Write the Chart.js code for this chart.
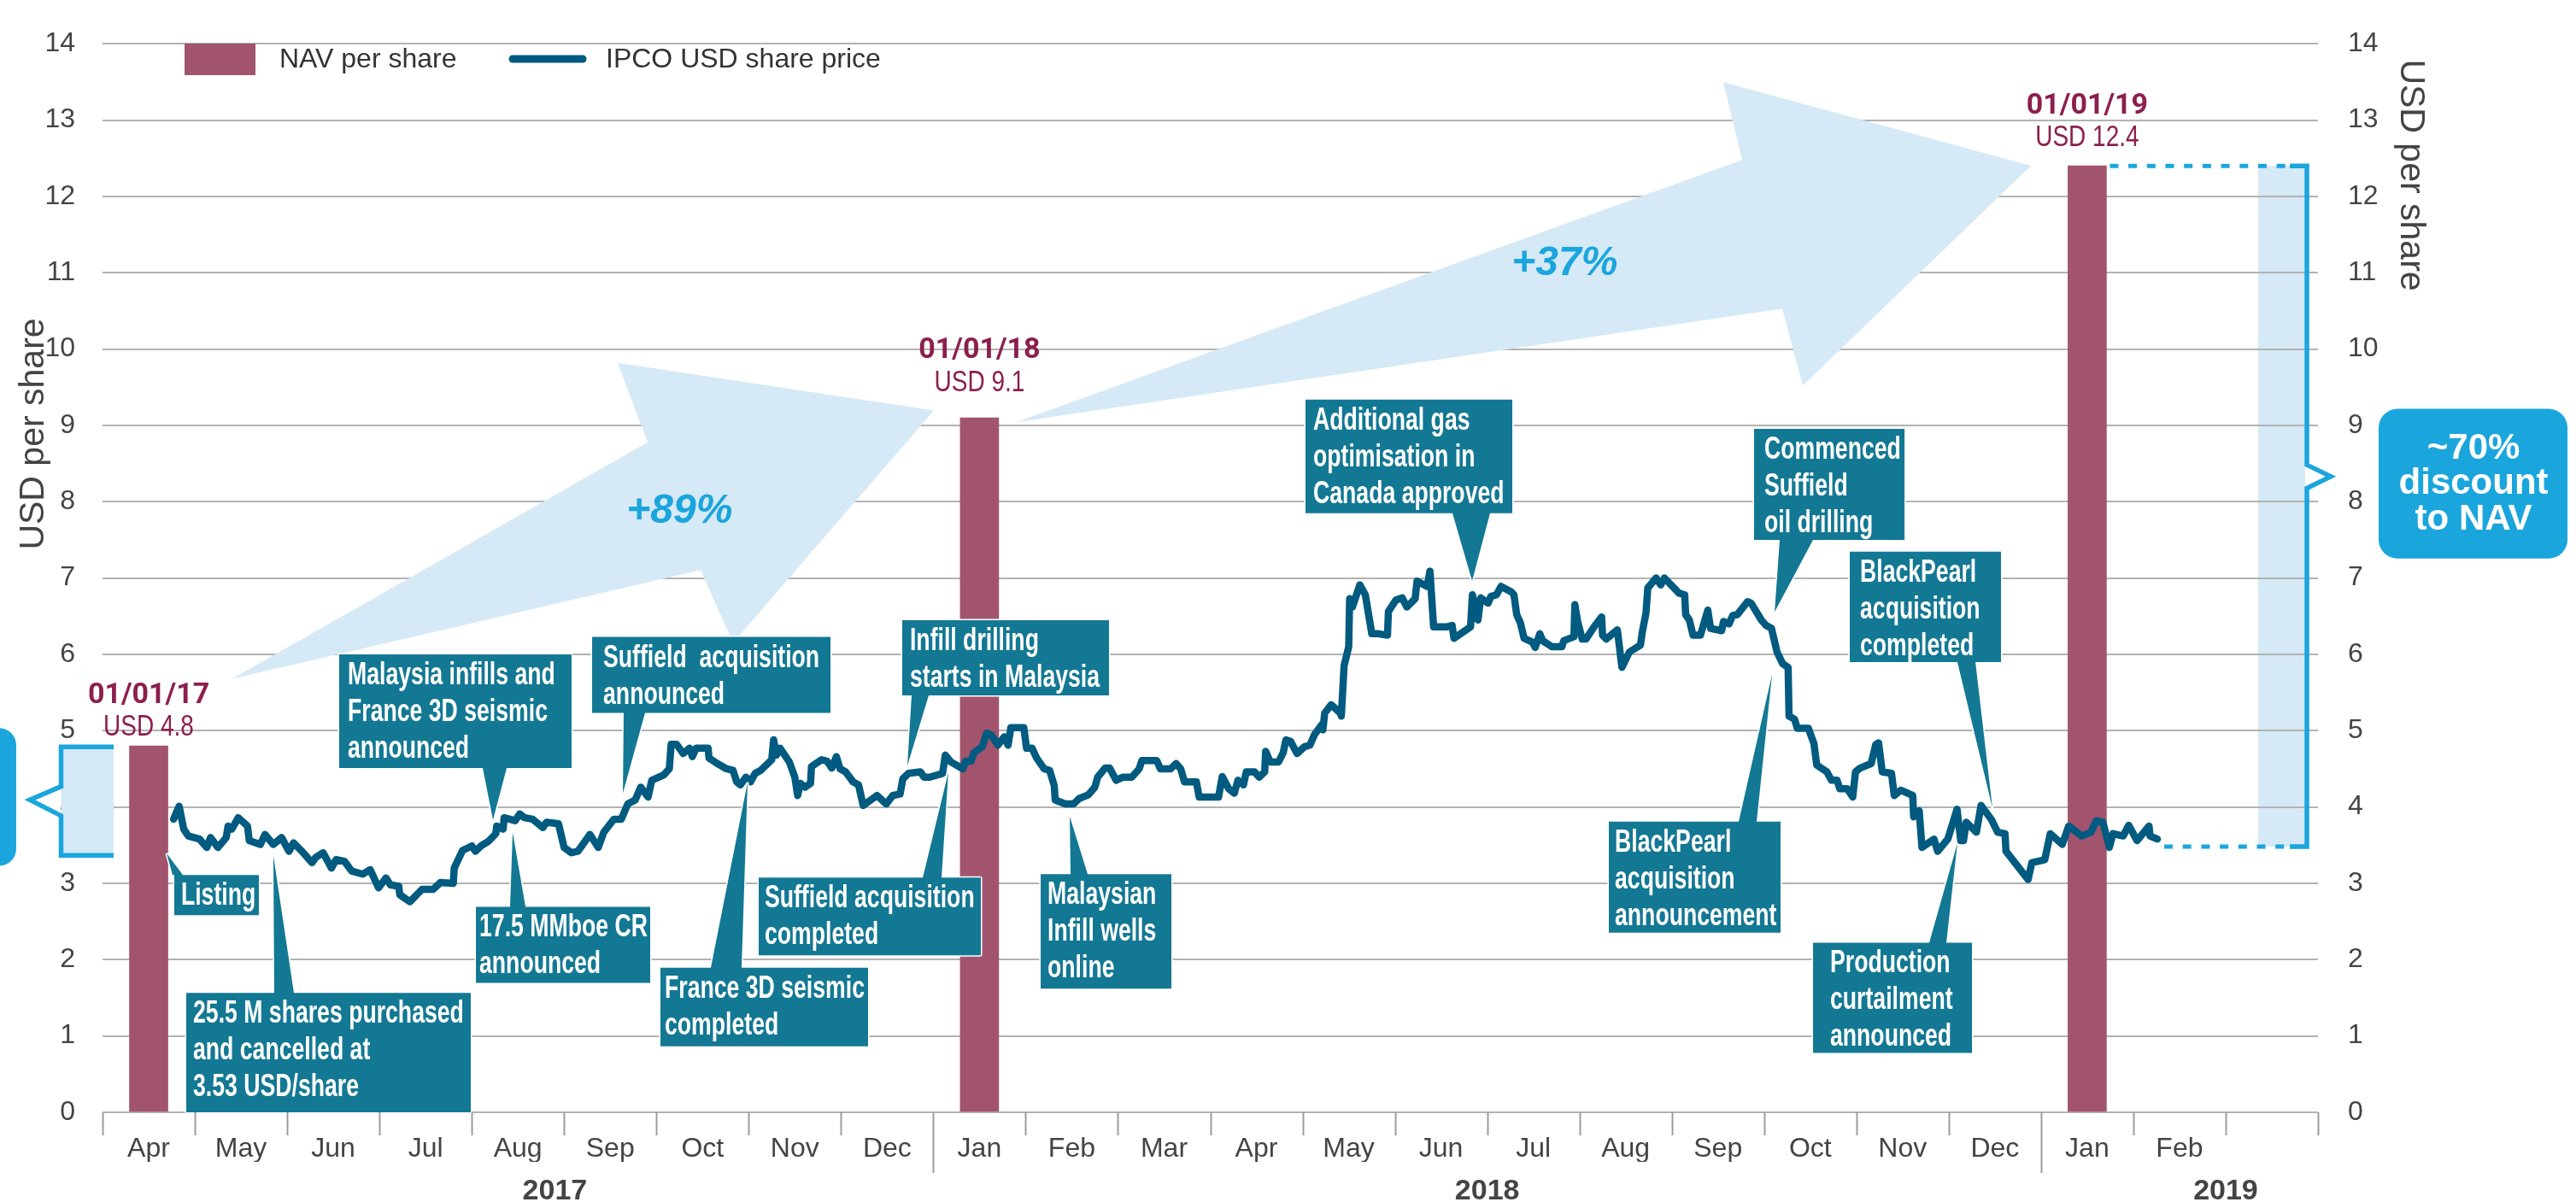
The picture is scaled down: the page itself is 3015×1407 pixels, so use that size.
<!DOCTYPE html>
<html>
<head>
<meta charset="utf-8">
<script src="https://cdn.jsdelivr.net/npm/chart.js@4.4.1/dist/chart.umd.min.js"></script>
<style>
  html, body { margin: 0; padding: 0; background: #fff; }
  #wrap { width: 3015px; height: 1407px; }
</style>
</head>
<body>
<div id="wrap"><canvas id="chart" width="3015" height="1407"></canvas></div>
<script>
// ---------- data ----------
// x axis is linear in months: 0 = start of Apr 2017, 24 = end of Mar 2019
const monthLabels = ['Apr','May','Jun','Jul','Aug','Sep','Oct','Nov','Dec','Jan','Feb','Mar',
                     'Apr','May','Jun','Jul','Aug','Sep','Oct','Nov','Dec','Jan','Feb',''];
const yearLabels = ['2017', '2018', '2019'];
const yearPos = [4.9, 15.0, 23.0];
const yearStarts = [9, 21];
const yTicks = [0, 14];

const navMonth = [0.5, 9.5, 21.5];
const navValue = [4.8, 9.1, 12.4];
const navDates = ['01/01/17', '01/01/18', '01/01/19'];

// IPCO share price in USD, [month, value]
const priceSeries = [
  [0.77,3.84],[0.83,4.01],[0.88,3.71],[0.93,3.62],[1.05,3.58],[1.13,3.47],[1.17,3.60],[1.25,3.47],
  [1.34,3.60],[1.36,3.75],[1.40,3.71],[1.47,3.86],[1.57,3.75],[1.59,3.56],[1.71,3.51],[1.76,3.64],
  [1.85,3.51],[1.94,3.60],[2.02,3.42],[2.07,3.53],[2.16,3.42],[2.27,3.27],[2.31,3.34],[2.39,3.40],
  [2.48,3.20],[2.53,3.31],[2.62,3.29],[2.70,3.16],[2.82,3.12],[2.90,3.18],[2.99,2.94],[3.07,3.07],
  [3.12,2.98],[3.21,2.96],[3.22,2.85],[3.33,2.76],[3.46,2.92],[3.58,2.92],[3.66,3.01],[3.80,3.00],
  [3.81,3.20],[3.90,3.43],[4.00,3.49],[4.04,3.42],[4.10,3.49],[4.18,3.55],[4.26,3.65],[4.27,3.75],
  [4.34,3.71],[4.35,3.86],[4.47,3.82],[4.52,3.91],[4.57,3.86],[4.66,3.84],[4.77,3.73],[4.81,3.80],
  [4.94,3.78],[5.00,3.47],[5.08,3.40],[5.15,3.42],[5.28,3.64],[5.37,3.47],[5.43,3.67],[5.54,3.84],
  [5.62,3.84],[5.69,4.04],[5.77,4.09],[5.83,4.26],[5.91,4.13],[5.95,4.35],[6.08,4.42],[6.14,4.50],
  [6.16,4.82],[6.22,4.82],[6.29,4.70],[6.36,4.77],[6.39,4.66],[6.43,4.77],[6.56,4.77],[6.57,4.64],
  [6.66,4.57],[6.76,4.50],[6.83,4.48],[6.87,4.33],[6.91,4.29],[6.97,4.39],[7.02,4.33],[7.07,4.44],
  [7.13,4.48],[7.25,4.62],[7.27,4.88],[7.30,4.68],[7.34,4.77],[7.44,4.59],[7.50,4.39],[7.53,4.15],
  [7.56,4.31],[7.61,4.26],[7.67,4.31],[7.68,4.53],[7.79,4.62],[7.85,4.60],[7.90,4.51],[7.95,4.66],
  [7.99,4.50],[8.05,4.46],[8.13,4.33],[8.19,4.29],[8.24,4.02],[8.32,4.09],[8.39,4.15],[8.49,4.04],
  [8.56,4.15],[8.64,4.17],[8.67,4.37],[8.73,4.44],[8.86,4.46],[8.90,4.39],[8.96,4.39],[9.10,4.44],
  [9.13,4.68],[9.19,4.59],[9.32,4.50],[9.35,4.60],[9.41,4.60],[9.44,4.71],[9.53,4.79],[9.58,4.97],
  [9.63,4.94],[9.70,4.81],[9.77,4.92],[9.81,4.81],[9.84,5.04],[9.98,5.04],[10.01,4.77],[10.07,4.77],
  [10.12,4.64],[10.20,4.50],[10.26,4.48],[10.31,4.28],[10.32,4.09],[10.43,4.04],[10.52,4.04],[10.58,4.11],
  [10.68,4.16],[10.75,4.26],[10.78,4.39],[10.86,4.51],[10.91,4.51],[10.98,4.35],[11.05,4.39],[11.15,4.39],
  [11.23,4.50],[11.26,4.61],[11.42,4.61],[11.46,4.50],[11.57,4.50],[11.63,4.57],[11.68,4.50],[11.72,4.33],
  [11.85,4.33],[11.88,4.13],[12.09,4.13],[12.13,4.40],[12.20,4.24],[12.26,4.18],[12.30,4.35],[12.36,4.29],
  [12.39,4.46],[12.48,4.46],[12.53,4.39],[12.59,4.46],[12.60,4.73],[12.65,4.59],[12.74,4.59],[12.79,4.71],
  [12.82,4.88],[12.87,4.86],[12.94,4.70],[13.02,4.79],[13.08,4.81],[13.13,4.95],[13.21,5.08],[13.22,5.01],
  [13.24,5.23],[13.31,5.34],[13.41,5.23],[13.42,5.19],[13.45,5.85],[13.50,6.10],[13.51,6.73],[13.54,6.62],
  [13.62,6.91],[13.68,6.78],[13.75,6.27],[13.82,6.27],[13.92,6.25],[13.93,6.56],[14.01,6.71],[14.08,6.74],
  [14.13,6.62],[14.22,6.73],[14.24,6.96],[14.35,6.89],[14.38,7.09],[14.42,6.36],[14.47,6.36],[14.56,6.36],
  [14.62,6.38],[14.64,6.21],[14.82,6.36],[14.84,6.78],[14.90,6.45],[14.93,6.74],[15.01,6.67],[15.04,6.76],
  [15.10,6.78],[15.15,6.89],[15.26,6.82],[15.29,6.78],[15.32,6.52],[15.36,6.41],[15.40,6.21],[15.49,6.16],
  [15.52,6.09],[15.57,6.27],[15.60,6.18],[15.70,6.10],[15.81,6.10],[15.83,6.18],[15.94,6.23],[15.95,6.65],
  [15.98,6.43],[16.03,6.20],[16.07,6.20],[16.17,6.38],[16.24,6.49],[16.25,6.25],[16.29,6.20],[16.41,6.32],
  [16.46,5.83],[16.54,6.03],[16.66,6.12],[16.68,6.29],[16.72,6.54],[16.74,6.87],[16.83,7.00],[16.88,6.91],
  [16.92,7.00],[17.08,6.80],[17.14,6.78],[17.15,6.52],[17.19,6.45],[17.23,6.25],[17.31,6.25],[17.39,6.58],
  [17.42,6.34],[17.54,6.31],[17.56,6.43],[17.62,6.40],[17.66,6.51],[17.71,6.52],[17.82,6.69],[17.86,6.67],
  [17.97,6.45],[18.02,6.38],[18.08,6.34],[18.14,6.03],[18.20,5.88],[18.26,5.83],[18.27,5.19],[18.33,5.15],
  [18.36,5.03],[18.48,5.03],[18.54,4.83],[18.57,4.55],[18.68,4.46],[18.73,4.35],[18.79,4.35],[18.82,4.24],
  [18.90,4.24],[18.96,4.13],[18.99,4.46],[19.04,4.51],[19.16,4.57],[19.21,4.82],[19.24,4.84],[19.28,4.46],
  [19.38,4.44],[19.41,4.15],[19.48,4.22],[19.61,4.15],[19.62,3.87],[19.68,3.95],[19.71,3.47],[19.84,3.58],
  [19.88,3.42],[19.99,3.58],[20.09,3.97],[20.13,3.56],[20.16,3.56],[20.19,3.80],[20.30,3.67],[20.35,4.02],
  [20.46,3.84],[20.53,3.67],[20.61,3.65],[20.62,3.42],[20.86,3.05],[20.90,3.27],[21.04,3.31],[21.10,3.65],
  [21.23,3.51],[21.30,3.75],[21.44,3.62],[21.54,3.67],[21.60,3.82],[21.67,3.80],[21.74,3.47],[21.78,3.65],
  [21.89,3.62],[21.95,3.76],[22.04,3.56],[22.17,3.75],[22.18,3.62],[22.26,3.58]
];

// ---------- styles ----------
const NAV_COL = '#a2546d';
const LINE_COL = '#015a80';
const BOX_COL = '#137893';
const LIGHT = '#d5e9f6';
const BLUE = '#1ba5dd';
const MAROON = '#8c1f4e';
const GREY_TXT = '#444444';
const SANS = '"Liberation Sans", Arial, sans-serif';

// event call-outs (positions in month / USD units)
const events = [
  { t: ['Listing'], l: 0.777, r: 1.694, top: 3.109, bot: 2.583, tip: [0.694, 3.393], base: [0.759, 0.870], side: 'top', pad: 8 },
  { t: ['Malaysia infills and', 'France 3D seismic', 'announced'], l: 2.564, r: 5.081, top: 5.998, bot: 4.510, tip: [4.230, 3.831], base: [4.119, 4.378], side: 'bottom', pad: 10 },
  { t: ['Suffield  acquisition', 'announced'], l: 5.304, r: 7.886, top: 6.228, bot: 5.232, tip: [5.637, 4.181], base: [5.646, 5.877], side: 'bottom', pad: 13 },
  { t: ['Infill drilling', 'starts in Malaysia'], l: 8.663, r: 10.903, top: 6.447, bot: 5.462, tip: [8.719, 4.542], base: [8.765, 8.950], side: 'bottom', pad: 9 },
  { t: ['Suffield acquisition', 'completed'], l: 7.108, r: 9.515, top: 3.076, bot: 2.058, tip: [9.163, 4.455], base: [8.886, 9.089], side: 'top', pad: 7 },
  { t: ['17.5 MMboe CR', 'announced'], l: 4.045, r: 5.933, top: 2.693, bot: 1.697, tip: [4.443, 3.667], base: [4.415, 4.582], side: 'top', pad: 4 },
  { t: ['25.5 M shares purchased', 'and cancelled at', '3.53 USD/share'], l: 0.907, r: 3.989, top: 1.565, bot: 0, tip: [1.851, 3.360], base: [1.860, 2.073], side: 'top', pad: 8 },
  { t: ['France 3D seismic', 'completed'], l: 6.044, r: 8.293, top: 1.894, bot: 0.865, tip: [6.988, 4.324], base: [6.590, 6.923], side: 'top', pad: 5 },
  { t: ['Malaysian', 'Infill wells', 'online'], l: 10.163, r: 11.579, top: 3.120, bot: 1.620, tip: [10.478, 3.875], base: [10.487, 10.672], side: 'top', pad: 8 },
  { t: ['Additional gas', 'optimisation in', 'Canada approved'], l: 13.032, r: 15.272, top: 9.337, bot: 7.848, tip: [14.837, 6.961], base: [14.624, 15.031], side: 'bottom', pad: 9 },
  { t: ['BlackPearl', 'acquisition', 'announcement'], l: 16.318, r: 18.178, top: 3.809, bot: 2.353, tip: [18.086, 5.736], base: [17.725, 17.919], side: 'top', pad: 7 },
  { t: ['Commenced', 'Suffield', 'oil drilling'], l: 17.891, r: 19.521, top: 8.954, bot: 7.498, tip: [18.114, 6.556], base: [18.169, 18.530], side: 'bottom', pad: 12 },
  { t: ['BlackPearl', 'acquisition', 'completed'], l: 18.928, r: 20.566, top: 7.345, bot: 5.900, tip: [20.474, 3.984], base: [20.094, 20.289], side: 'bottom', pad: 12 },
  { t: ['Production', 'curtailment', 'announced'], l: 18.530, r: 20.252, top: 2.222, bot: 0.777, tip: [20.094, 3.525], base: [19.789, 19.974], side: 'top', pad: 20 }
];

// big growth arrows
const arrows = [
  { label: '+89%', at: [6.25, 7.87],
    pts: [[1.407, 5.681], [5.905, 8.778], [5.581, 9.818], [9.006, 9.194], [6.831, 6.152], [6.479, 7.104]] },
  { label: '+37%', at: [15.84, 11.12],
    pts: [[9.894, 9.041], [17.762, 12.478], [17.558, 13.496], [20.890, 12.401], [18.419, 9.523], [18.197, 10.530]] }
];

const navLabelY = [[5.36, 4.94], [9.88, 9.45], [13.08, 12.66]];

// ---------- helpers ----------
function P(chart, x, y) {
  return [chart.scales.x.getPixelForValue(x), chart.scales.y.getPixelForValue(y)];
}
function condText(ctx, txt, x, y, sx, align) {
  ctx.save();
  ctx.translate(x, y);
  ctx.scale(sx, 1);
  ctx.textAlign = align || 'left';
  ctx.fillText(txt, 0, 0);
  ctx.restore();
}
function roundRect(ctx, x, y, w, h, r) {
  ctx.beginPath();
  ctx.moveTo(x + r, y);
  ctx.arcTo(x + w, y, x + w, y + h, r);
  ctx.arcTo(x + w, y + h, x, y + h, r);
  ctx.arcTo(x, y + h, x, y, r);
  ctx.arcTo(x, y, x + w, y, r);
  ctx.closePath();
}

function drawEvent(ctx, chart, b) {
  const [L, T] = P(chart, b.l, b.top);
  const [R, B] = P(chart, b.r, b.bot);
  const [tx, ty] = P(chart, b.tip[0], b.tip[1]);
  const b1 = chart.scales.x.getPixelForValue(b.base[0]);
  const b2 = chart.scales.x.getPixelForValue(b.base[1]);
  ctx.beginPath();
  if (b.side === 'top') {
    ctx.moveTo(L, T); ctx.lineTo(b1, T); ctx.lineTo(tx, ty); ctx.lineTo(b2, T);
    ctx.lineTo(R, T); ctx.lineTo(R, B); ctx.lineTo(L, B);
  } else {
    ctx.moveTo(L, T); ctx.lineTo(R, T); ctx.lineTo(R, B); ctx.lineTo(b2, B);
    ctx.lineTo(tx, ty); ctx.lineTo(b1, B); ctx.lineTo(L, B);
  }
  ctx.closePath();
  ctx.lineJoin = 'bevel';
  ctx.strokeStyle = '#ffffff';
  ctx.lineWidth = 3;
  ctx.stroke();
  ctx.fillStyle = BOX_COL;
  ctx.fill();
  ctx.fillStyle = '#ffffff';
  ctx.font = 'bold 36px ' + SANS;
  ctx.textBaseline = 'alphabetic';
  b.t.forEach((s, i) => condText(ctx, s, L + b.pad, T + 35 + i * 43, 0.74));
}

// ---------- drawing plugin ----------
const deco = {
  id: 'deco',
  beforeDraw(chart) {
    const ctx = chart.ctx;
    ctx.save();
    ctx.fillStyle = '#ffffff';
    ctx.fillRect(0, 0, chart.width, chart.height);
    // shaded band of the discount bracket, gridlines show through it
    const [x0, y0] = P(chart, 23.353, 12.4);
    const [x1, y1] = P(chart, 23.862, 3.48);
    ctx.fillStyle = LIGHT;
    ctx.fillRect(x0, y0, x1 - x0, y1 - y0);
    ctx.restore();
  },
  beforeDatasetsDraw(chart) {
    const ctx = chart.ctx;
    ctx.save();
    arrows.forEach(a => {
      ctx.beginPath();
      a.pts.forEach(([x, y], i) => {
        const [px, py] = P(chart, x, y);
        if (i) ctx.lineTo(px, py); else ctx.moveTo(px, py);
      });
      ctx.closePath();
      ctx.fillStyle = LIGHT;
      ctx.fill();
      const [lx, ly] = P(chart, a.at[0], a.at[1]);
      ctx.fillStyle = BLUE;
      ctx.font = 'italic bold 48px ' + SANS;
      ctx.textAlign = 'center';
      ctx.textBaseline = 'middle';
      ctx.fillText(a.label, lx, ly);
    });
    ctx.restore();
  },
  afterDatasetsDraw(chart) {
    const ctx = chart.ctx;
    const xs = chart.scales.x;
    ctx.save();
    events.forEach(b => drawEvent(ctx, chart, b));

    // NAV date labels
    navMonth.forEach((m, i) => {
      const x = xs.getPixelForValue(m);
      const yd = chart.scales.y.getPixelForValue(navLabelY[i][0]);
      const yu = chart.scales.y.getPixelForValue(navLabelY[i][1]);
      ctx.fillStyle = MAROON;
      ctx.textBaseline = 'alphabetic';
      ctx.textAlign = 'center';
      ctx.font = 'bold 34px Roboto, ' + SANS;
      ctx.fillText(navDates[i], x, yd);
      ctx.font = '35px ' + SANS;
      condText(ctx, 'USD ' + navValue[i], x, yu, 0.8, 'center');
    });

    // dotted guides to the discount bracket
    const barRight = xs.getPixelForValue(navMonth[2]) + 22.5;
    const last = priceSeries[priceSeries.length - 1];
    const [bx, yTop] = P(chart, 23.880, 12.4);
    const yBot = chart.scales.y.getPixelForValue(3.48);
    ctx.strokeStyle = BLUE;
    ctx.lineWidth = 5;
    ctx.setLineDash([10, 11.7]);
    ctx.beginPath();
    ctx.moveTo(barRight + 4, yTop); ctx.lineTo(bx - 20, yTop);
    ctx.moveTo(xs.getPixelForValue(last[0]) + 8, yBot); ctx.lineTo(bx - 20, yBot);
    ctx.stroke();
    ctx.setLineDash([]);
    // bracket outline with notch
    const pts = [[23.695, 12.4], [23.880, 12.4], [23.880, 8.483], [24.139, 8.33], [23.880, 8.176], [23.880, 3.48], [23.695, 3.48]];
    ctx.lineWidth = 5.5;
    ctx.lineJoin = 'miter';
    ctx.beginPath();
    pts.forEach(([x, y], i) => {
      const [px, py] = P(chart, x, y);
      if (i) ctx.lineTo(px, py); else ctx.moveTo(px, py);
    });
    ctx.stroke();
    ctx.restore();
  },
  afterDraw(chart) {
    const ctx = chart.ctx;
    const xs = chart.scales.x;
    const bottom = chart.chartArea.bottom;
    ctx.save();
    // month separators, longer at year starts
    ctx.strokeStyle = '#9c9c9c';
    ctx.lineWidth = 2;
    for (let i = 0; i <= monthLabels.length; i++) {
      const x = Math.round(xs.getPixelForValue(i)) + 0.5;
      ctx.beginPath();
      ctx.moveTo(x, bottom);
      ctx.lineTo(x, bottom + (yearStarts.includes(i) ? 71 : 27));
      ctx.stroke();
    }

    // legend
    ctx.fillStyle = NAV_COL;
    ctx.fillRect(216, 51, 83, 37);
    ctx.fillStyle = '#333333';
    ctx.font = '32px ' + SANS;
    ctx.textBaseline = 'middle';
    ctx.textAlign = 'left';
    ctx.fillText('NAV per share', 327, 70);
    ctx.fillText('IPCO USD share price', 709, 70);
    ctx.strokeStyle = LINE_COL;
    ctx.lineWidth = 9;
    ctx.lineCap = 'round';
    ctx.beginPath();
    ctx.moveTo(600, 69); ctx.lineTo(682, 69);
    ctx.stroke();
    ctx.lineCap = 'butt';

    // axis titles
    ctx.fillStyle = GREY_TXT;
    ctx.font = '41px ' + SANS;
    ctx.textAlign = 'center';
    ctx.save();
    ctx.translate(40, 508);
    ctx.rotate(-Math.PI / 2);
    ctx.fillText('USD per share', 0, 0);
    ctx.restore();
    ctx.save();
    ctx.translate(2821, 205);
    ctx.rotate(Math.PI / 2);
    ctx.fillText('USD per share', 0, 0);
    ctx.restore();

    // left bracket (covers the "4" label) and its cut-off call-out
    const [lx0, ly0] = P(chart, -0.449, 4.789);
    const [lx1, ly1] = P(chart, 0.120, 3.366);
    ctx.fillStyle = LIGHT;
    ctx.fillRect(lx0, ly0, lx1 - lx0, ly1 - ly0);
    ctx.strokeStyle = BLUE;
    ctx.lineWidth = 5.5;
    ctx.lineJoin = 'miter';
    ctx.beginPath();
    [[0.120, 4.789], [-0.449, 4.789], [-0.449, 4.269], [-0.787, 4.094], [-0.449, 3.886], [-0.449, 3.366], [0.120, 3.366]]
      .forEach(([x, y], i) => {
        const [px, py] = P(chart, x, y);
        if (i) ctx.lineTo(px, py); else ctx.moveTo(px, py);
      });
    ctx.stroke();
    const [cx0, cy0] = P(chart, -2.0, 5.035);
    const [cx1, cy1] = P(chart, -0.935, 3.229);
    ctx.fillStyle = BLUE;
    roundRect(ctx, cx0, cy0, cx1 - cx0, cy1 - cy0, 20);
    ctx.fill();

    // right call-out
    const [rx0, ry0] = P(chart, 24.657, 9.216);
    const [rx1, ry1] = P(chart, 26.703, 7.257);
    roundRect(ctx, rx0, ry0, rx1 - rx0, ry1 - ry0, 22);
    ctx.fill();
    ctx.fillStyle = '#ffffff';
    ctx.font = 'bold 42px ' + SANS;
    ctx.textAlign = 'center';
    ctx.textBaseline = 'alphabetic';
    const cx = xs.getPixelForValue(25.685);
    [['~70%', 8.560], ['discount', 8.100], ['to NAV', 7.629]].forEach(([s, v]) => {
      ctx.fillText(s, cx, chart.scales.y.getPixelForValue(v));
    });
    ctx.restore();
  }
};

// ---------- chart ----------
const tickFont = { family: SANS, size: 32 };

new Chart(document.getElementById('chart'), {
  type: 'line',
  data: {
    datasets: [
      {
        type: 'line',
        label: 'IPCO USD share price',
        data: priceSeries.map(([x, y]) => ({ x, y })),
        borderColor: LINE_COL,
        borderWidth: 8.5,
        borderJoinStyle: 'round',
        borderCapStyle: 'round',
        pointRadius: 0,
        tension: 0,
        order: 0
      },
      {
        type: 'bar',
        label: 'NAV per share',
        data: navMonth.map((x, i) => ({ x, y: navValue[i] })),
        backgroundColor: NAV_COL,
        barThickness: 45,
        grouped: false,
        order: 1
      }
    ]
  },
  options: {
    responsive: false,
    animation: false,
    devicePixelRatio: 1,
    layout: { padding: { top: 23, left: 0, right: 0, bottom: 0 } },
    plugins: { legend: { display: false }, tooltip: { enabled: false } },
    scales: {
      x: {
        type: 'linear', position: 'bottom', min: 0, max: monthLabels.length, offset: false, weight: 0,
        afterBuildTicks: s => { s.ticks = monthLabels.map((_, i) => ({ value: i + 0.5 })); },
        afterFit: s => { s.height = 58; },
        ticks: { callback: (v, i) => monthLabels[i], font: tickFont, color: GREY_TXT, padding: 16, autoSkip: false, maxRotation: 0 },
        grid: { display: false },
        border: { display: false }
      },
      x2: {
        type: 'linear', position: 'bottom', min: 0, max: monthLabels.length, offset: false, weight: 1,
        afterBuildTicks: s => { s.ticks = yearPos.map(v => ({ value: v })); },
        afterFit: s => { s.height = 47; },
        ticks: { callback: (v, i) => yearLabels[i], font: { family: SANS, size: 34, weight: 'bold' }, color: GREY_TXT, padding: 6, autoSkip: false, maxRotation: 0 },
        grid: { display: false },
        border: { display: false }
      },
      y: {
        type: 'linear', position: 'left', min: yTicks[0], max: yTicks[1],
        afterFit: s => { s.width = 120; },
        ticks: { stepSize: 1, font: tickFont, color: GREY_TXT, padding: 32 },
        grid: { color: '#b2b2b2', lineWidth: 2, drawTicks: false },
        border: { display: false }
      },
      y2: {
        type: 'linear', position: 'right', min: yTicks[0], max: yTicks[1],
        afterFit: s => { s.width = 302; },
        ticks: { stepSize: 1, font: tickFont, color: GREY_TXT, padding: 27 },
        grid: { display: false },
        border: { display: false }
      }
    }
  },
  plugins: [deco]
});
</script>
</body>
</html>
